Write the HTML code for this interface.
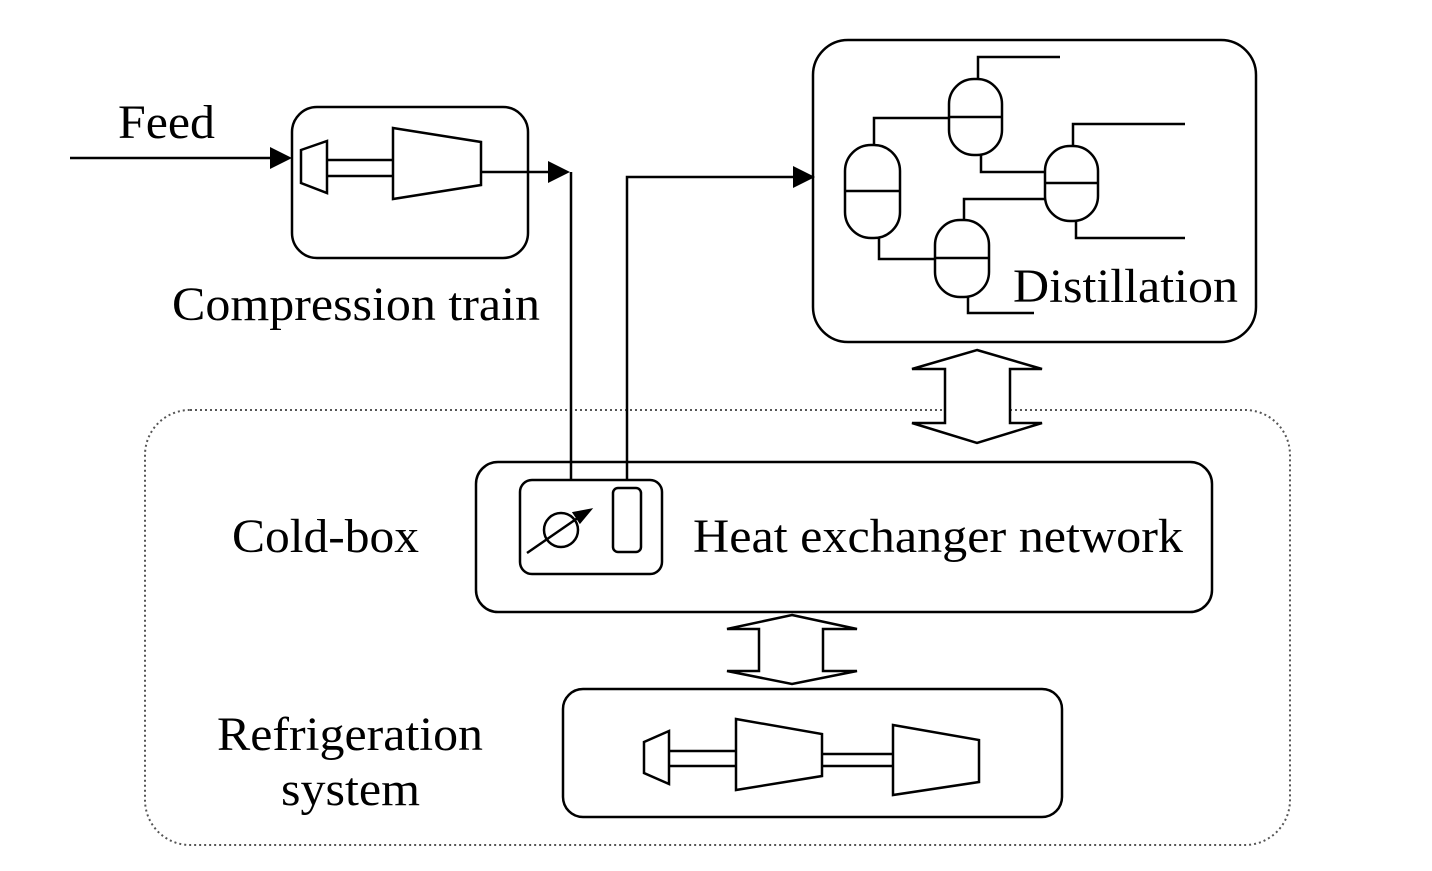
<!DOCTYPE html>
<html><head><style>html,body{margin:0;padding:0;background:#fff}svg{display:block}</style></head>
<body>
<svg width="1432" height="871" viewBox="0 0 1432 871" xmlns="http://www.w3.org/2000/svg" font-family="Liberation Serif, serif" fill="none" stroke="#000" stroke-width="2.5">
<rect x="145" y="410" width="1145" height="435" rx="45" stroke="#555" stroke-width="2" stroke-dasharray="2,3"/>
<line x1="70" y1="158" x2="275" y2="158"/>
<polygon points="292,158 270,147 270,169" fill="#000" stroke="none"/>
<rect x="292" y="107" width="236" height="151" rx="25"/>
<polygon points="301,150 327,141 327,193 301,183" fill="#fff"/>
<line x1="327" y1="160" x2="393" y2="160"/>
<line x1="327" y1="176" x2="393" y2="176"/>
<polygon points="393,128 481,142 481,185 393,199" fill="#fff"/>
<line x1="481" y1="172" x2="552" y2="172"/>
<polygon points="570,172 548,161 548,183" fill="#000" stroke="none"/>
<polyline points="571,172 571,481"/>
<polyline points="627,481 627,177 798,177"/>
<polygon points="815,177 793,166 793,188" fill="#000" stroke="none"/>
<rect x="813" y="40" width="443" height="302" rx="35"/>
<g stroke-width="2.5">
<rect x="845" y="145" width="55" height="93" rx="26"/><line x1="845" y1="191" x2="900" y2="191"/>
<rect x="949" y="79" width="53" height="76" rx="25"/><line x1="949" y1="117" x2="1002" y2="117"/>
<rect x="1045" y="146" width="53" height="75" rx="25"/><line x1="1045" y1="183" x2="1098" y2="183"/>
<rect x="935" y="220" width="54" height="77" rx="25"/><line x1="935" y1="258" x2="989" y2="258"/>
<polyline points="874,145 874,118 949,118"/>
<polyline points="978,79 978,57 1060,57"/>
<polyline points="981,155 981,172 1045,172"/>
<polyline points="1073,146 1073,124 1185,124"/>
<polyline points="1076,221 1076,238 1185,238"/>
<polyline points="1045,199 964,199 964,220"/>
<polyline points="879,238 879,259 935,259"/>
<polyline points="968,297 968,313 1034,313"/>
</g>
<g fill="#000" stroke="none" font-size="48" lengthAdjust="spacingAndGlyphs">
<text x="1013" y="302" textLength="225" lengthAdjust="spacingAndGlyphs">Distillation</text>
<text x="693" y="552" textLength="490" lengthAdjust="spacingAndGlyphs">Heat exchanger network</text>
<text x="232" y="552" textLength="187" lengthAdjust="spacingAndGlyphs">Cold-box</text>
<text x="217" y="750" textLength="266" lengthAdjust="spacingAndGlyphs">Refrigeration</text>
<text x="281" y="805" textLength="139" lengthAdjust="spacingAndGlyphs">system</text>
<text x="118" y="138" textLength="97" lengthAdjust="spacingAndGlyphs">Feed</text>
<text x="172" y="320" textLength="368" lengthAdjust="spacingAndGlyphs">Compression train</text>
</g>
<polygon points="977,350 1042,369 1010,369 1010,423 1042,423 977,443 912,423 945,423 945,369 912,369" fill="#fff"/>
<rect x="476" y="462" width="736" height="150" rx="22" fill="none"/>
<rect x="520" y="480" width="142" height="94" rx="12"/>
<circle cx="561" cy="530" r="17"/>
<line x1="527" y1="553" x2="582" y2="515"/>
<polygon points="590,510 574,513 580,522" fill="#000"/>
<rect x="613" y="488" width="28" height="64" rx="5"/>
<polygon points="792,615 857,629 823,629 823,671 857,671 792,684 727,671 759,671 759,629 727,629" fill="#fff"/>
<rect x="563" y="689" width="499" height="128" rx="20"/>
<polygon points="644,742 669,731 669,784 644,773" fill="#fff"/>
<line x1="669" y1="751" x2="736" y2="751"/><line x1="669" y1="766" x2="736" y2="766"/>
<polygon points="736,719 822,734 822,776 736,790" fill="#fff"/>
<line x1="822" y1="754" x2="893" y2="754"/><line x1="822" y1="766" x2="893" y2="766"/>
<polygon points="893,725 979,740 979,782 893,795" fill="#fff"/>
</svg>
</body></html>
